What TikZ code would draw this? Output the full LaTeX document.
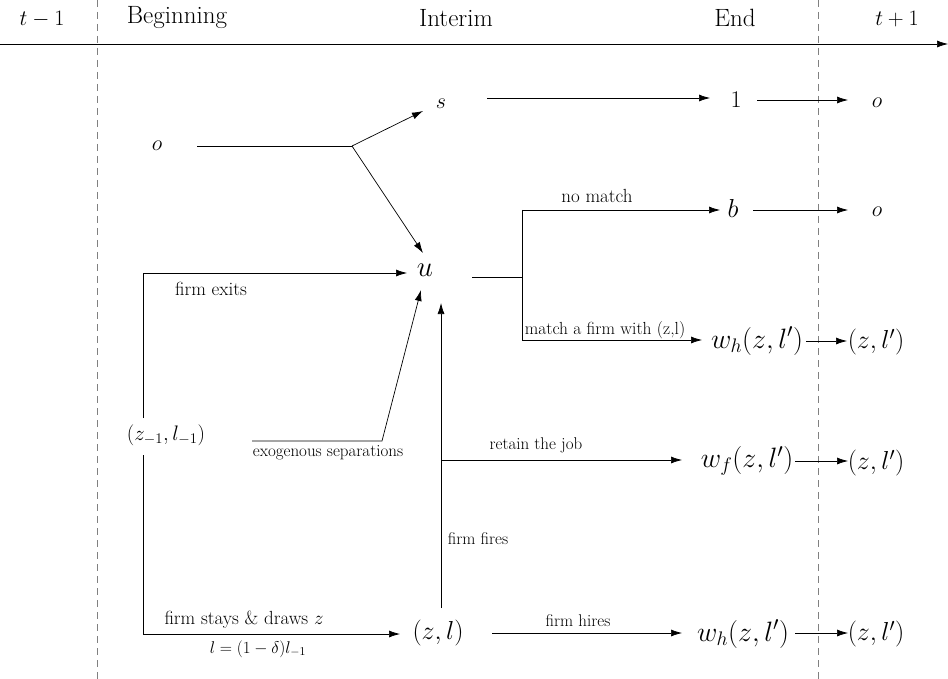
\RequirePackage{fix-cm}
\documentclass[tikz,border=0pt]{standalone}
\usetikzlibrary{arrows.meta}
\begin{document}
\begin{tikzpicture}[x=1pt,y=-1pt,line width=0.7pt,
  >={Latex[length=11pt,width=7pt]},
  hdr/.style={font=\fontsize{22}{24}\selectfont,inner sep=0pt},
  thdr/.style={font=\fontsize{25}{27}\selectfont,inner sep=0pt},
  mth/.style={font=\fontsize{26}{28}\selectfont,inner sep=0pt},
  mbig/.style={font=\fontsize{28}{30}\selectfont,inner sep=0pt},
  msm/.style={font=\fontsize{22}{24}\selectfont,inner sep=0pt},
  lblA/.style={font=\fontsize{19}{21}\selectfont,inner sep=0pt},
  lblB/.style={font=\fontsize{17}{19}\selectfont,inner sep=0pt},
  dline/.style={gray,dash pattern=on 7pt off 5pt,line width=0.8pt}]
\useasboundingbox (0,0) rectangle (948,679);
% headers
\node[hdr] (tm1) at (42,19) {$t-1$};
\node[thdr] (beg) at (177,18) {Beginning};
\node[thdr] (int) at (456,18) {Interim};
\node[thdr] (end) at (735,18) {End};
\node[hdr] (tp1) at (897,19) {$t+1$};
\coordinate (tl0) at (0,44);
\coordinate (tl1) at (948,44);
\draw[->] (tl0) -- (tl1);
\coordinate (da1) at (97,0);   \coordinate (db1) at (97,679);
\coordinate (da2) at (818,0);  \coordinate (db2) at (818,679);
\draw[dline] (da1) -- (db1);
\draw[dline] (da2) -- (db2);
% states
\node[msm] (o0) at (157,146) {$o$};
\node[msm] (s) at (441,104) {$s$};
\node[mth,font=\fontsize{29}{30}\selectfont] (u) at (425,270) {$u$};
\node[mth,font=\fontsize{24}{26}\selectfont] (one) at (736,100) {$1$};
\node[msm] (o1) at (877,103) {$o$};
\node[mth] (b) at (733,208) {$b$};
\node[msm] (o2) at (877,212) {$o$};
\node[mbig] (wh1) at (757,341) {$w_h(z,l')$};
\node[mth] (zl1) at (876,342) {$(z,l')$};
\node[mth,font=\fontsize{21}{23}\selectfont] (zm1) at (166,435) {$(z_{-1},l_{-1})$};
\node[mbig] (wf) at (747,461) {$w_f(z,l')$};
\node[mth] (zl2) at (876,463) {$(z,l')$};
\node[mth] (zl) at (438,633) {$(z,l)$};
\node[mbig] (wh2) at (743,634) {$w_h(z,l')$};
\node[mth] (zl3) at (876,634) {$(z,l')$};
% coordinates for connectors
\coordinate (oS) at (197,146);
\coordinate (fork) at (352,146);
\coordinate (sIn) at (423,111);
\coordinate (uIn1) at (423,253);
\coordinate (sOut) at (487,98);
\coordinate (oneIn) at (710,98);
\coordinate (oneOut) at (757,100);
\coordinate (o1In) at (848,100);
\coordinate (uOut) at (472,277);
\coordinate (br) at (522,277);
\coordinate (brT) at (522,210);
\coordinate (brB) at (522,340);
\coordinate (bIn) at (720,210);
\coordinate (wh1In) at (702,340);
\coordinate (bOut) at (753,210);
\coordinate (o2In) at (848,210);
\coordinate (wh1Out) at (806,341);
\coordinate (zl1In) at (847,341);
\coordinate (zmT) at (143,418);
\coordinate (zmTc) at (143,273);
\coordinate (uIn2) at (407,273);
\coordinate (zmB) at (143,455);
\coordinate (zmBc) at (143,634);
\coordinate (zlIn) at (400,634);
\coordinate (exA) at (252,441);
\coordinate (exB) at (382,441);
\coordinate (uIn3) at (421,290);
\coordinate (zlUp) at (441,608);
\coordinate (uIn4) at (441,303);
\coordinate (ret) at (441,460);
\coordinate (wfIn) at (682,460);
\coordinate (wfOut) at (795,461);
\coordinate (zl2In) at (848,461);
\coordinate (zlOut) at (492,633);
\coordinate (wh2In) at (682,633);
\coordinate (wh2Out) at (795,633);
\coordinate (zl3In) at (848,633);
% connectors
\draw (oS) -- (fork);
\draw[->] (fork) -- (sIn);
\draw[->] (fork) -- (uIn1);
\draw[->] (sOut) -- (oneIn);
\draw[->] (oneOut) -- (o1In);
\draw (uOut) -- (br);
\draw (brT) -- (brB);
\draw[->] (brT) -- (bIn);
\draw[->] (brB) -- (wh1In);
\draw[->] (bOut) -- (o2In);
\draw[->] (wh1Out) -- (zl1In);
\draw[->] (zmT) -- (zmTc) -- (uIn2);
\draw[->] (zmB) -- (zmBc) -- (zlIn);
\draw[->] (exA) -- (exB) -- (uIn3);
\draw[->] (zlUp) -- (uIn4);
\draw[->] (ret) -- (wfIn);
\draw[->] (wfOut) -- (zl2In);
\draw[->] (zlOut) -- (wh2In);
\draw[->] (wh2Out) -- (zl3In);
% labels
\node[lblA] (lnm) at (597,196) {no match};
\node[lblB,font=\fontsize{17.5}{19}\selectfont] (lmf) at (605,330) {match a firm with (z,l)};
\node[lblA] (lfe) at (211,289) {firm exits};
\node[lblB] (lex) at (328,453) {exogenous separations};
\node[lblB] (lrj) at (536,445) {retain the job};
\node[lblB] (lff) at (478,539) {firm fires};
\node[lblA] (lfs) at (244,620) {firm stays \& draws $z$};
\node[lblA,font=\fontsize{17}{19}\selectfont] (ldl) at (258,649) {$l=(1-\delta)l_{-1}$};
\node[lblB] (lfh) at (578,621) {firm hires};
\end{tikzpicture}
\end{document}
